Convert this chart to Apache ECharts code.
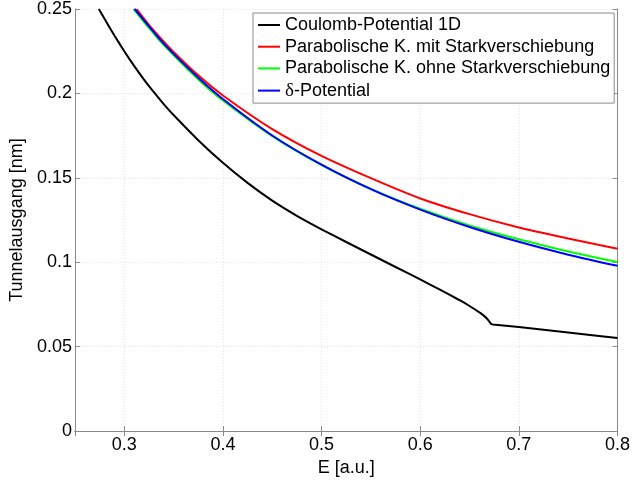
<!DOCTYPE html>
<html>
<head>
<meta charset="utf-8">
<script src="https://cdn.jsdelivr.net/npm/echarts@6/dist/echarts.min.js"></script>
<style>
html,body{margin:0;padding:0;background:#fff;}
#chart{width:633px;height:482px;}
</style>
</head>
<body>
<div id="chart"></div>
<script>
// ---- data ----
var seriesNames = ['Coulomb-Potential 1D', 'Parabolische K. mit Starkverschiebung', 'Parabolische K. ohne Starkverschiebung', 'δ-Potential'];

var coulombE = [0.2742, 0.28, 0.29, 0.30, 0.31, 0.32, 0.33, 0.34, 0.35, 0.375, 0.40, 0.425, 0.45, 0.475, 0.50, 0.525, 0.55, 0.575, 0.60, 0.62, 0.64, 0.65, 0.66, 0.665, 0.668, 0.6705, 0.672, 0.6735, 0.70, 0.75, 0.80];
var coulombV = [0.25, 0.2442, 0.2343, 0.2250, 0.2163, 0.2082, 0.2007, 0.1937, 0.1872, 0.1723, 0.1589, 0.1470, 0.1365, 0.1275, 0.1195, 0.1120, 0.1046, 0.0972, 0.0898, 0.0838, 0.0775, 0.0741, 0.0703, 0.0681, 0.0664, 0.0646, 0.0634, 0.0632, 0.0616, 0.0584, 0.0552];

var starkE = [0.3125, 0.325, 0.3375, 0.35, 0.375, 0.40, 0.45, 0.50, 0.55, 0.60, 0.65, 0.70, 0.75, 0.80];
var starkV = [0.2499, 0.2406, 0.2323, 0.2246, 0.2107, 0.1988, 0.1789, 0.1630, 0.1498, 0.1378, 0.1285, 0.1206, 0.1141, 0.1080];

var ohneE = [0.3095, 0.325, 0.3375, 0.35, 0.375, 0.40, 0.45, 0.50, 0.55, 0.60, 0.65, 0.70, 0.75, 0.80];
var ohneV = [0.25, 0.2388, 0.2302, 0.2226, 0.2083, 0.1958, 0.1747, 0.1576, 0.1435, 0.1317, 0.1218, 0.1136, 0.1064, 0.1002];

var deltaE = [0.3105, 0.325, 0.3375, 0.35, 0.375, 0.40, 0.45, 0.50, 0.55, 0.60, 0.65, 0.70, 0.75, 0.80];
var deltaV = [0.25, 0.2397, 0.2311, 0.2234, 0.2093, 0.1967, 0.1751, 0.1578, 0.1433, 0.1312, 0.1209, 0.1121, 0.1045, 0.0979];

var xMin = 0.25, xMax = 0.8;
var yMin = 0, yMax = 0.25, yStep = 0.05;

function pairs(xs, ys) { return xs.map(function (x, i) { return [x, ys[i]]; }); }

var FONT = "'Liberation Sans', Arial, sans-serif";
var AXIS_COLOR = '#8a8a8a';
var GRID_COLOR = '#e4e4e4';

var chart = echarts.init(document.getElementById('chart'), null, {renderer: 'canvas'});

var baseX = {
  type: 'value', min: xMin, max: xMax, splitNumber: 5,
  axisLine: {show: true, lineStyle: {color: AXIS_COLOR, width: 1}},
  axisTick: {show: true, inside: true, length: 5, lineStyle: {color: AXIS_COLOR}},
};
var baseY = {
  type: 'value', min: yMin, max: yMax, interval: yStep,
  axisLine: {show: true, lineStyle: {color: AXIS_COLOR, width: 1}},
  axisTick: {show: true, inside: true, length: 5, lineStyle: {color: AXIS_COLOR}},
};

var option = {
  animation: false,
  backgroundColor: '#ffffff',
  textStyle: {fontFamily: FONT},
  grid: {left: 73, right: 14, top: 9, bottom: 47, containLabel: false},
  xAxis: [
    Object.assign({}, baseX, {
      position: 'bottom',
      name: 'E [a.u.]', nameLocation: 'middle', nameGap: 21,
      nameTextStyle: {fontSize: 18, color: '#000', fontFamily: FONT},
      axisLabel: {show: true, fontSize: 18, color: '#000', margin: 5, fontFamily: FONT, showMinLabel: false, showMaxLabel: true},
      splitLine: {show: true, lineStyle: {color: GRID_COLOR, type: [1, 2], width: 1}}
    }),
    Object.assign({}, baseX, {
      position: 'top',
      axisLabel: {show: false},
      splitLine: {show: false}
    })
  ],
  yAxis: [
    Object.assign({}, baseY, {
      position: 'left',
      name: 'Tunnelausgang [nm]', nameLocation: 'middle', nameGap: 33, nameRotate: 90,
      nameTextStyle: {fontSize: 18, color: '#000', fontFamily: FONT},
      axisLabel: {show: true, fontSize: 18, color: '#000', margin: 3, fontFamily: FONT},
      splitLine: {show: true, lineStyle: {color: GRID_COLOR, type: [1, 2], width: 1}}
    }),
    Object.assign({}, baseY, {
      position: 'right',
      axisLabel: {show: false},
      splitLine: {show: false}
    })
  ],
  legend: {
    show: true,
    orient: 'vertical',
    left: 253, top: 13,
    padding: [3, 4, 3, 5],
    itemGap: 3.7,
    itemWidth: 22, itemHeight: 2,
    icon: 'rect',
    backgroundColor: '#ffffff',
    borderColor: '#8a8a8a', borderWidth: 1, borderRadius: 0,
    textStyle: {
      fontSize: 18, color: '#000', fontFamily: FONT, lineHeight: 18,
      rich: {
        d: {fontSize: 19, fontFamily: "'Liberation Serif', 'Times New Roman', serif", color: '#000', lineHeight: 18},
        t: {fontSize: 18, fontFamily: FONT, color: '#000', lineHeight: 18}
      }
    },
    formatter: function (name) {
      if (name.charAt(0) === 'δ') { return '{d|δ}{t|' + name.slice(1) + '}'; }
      return name;
    },
    data: seriesNames
  },
  series: [
    {name: seriesNames[0], type: 'line', data: pairs(coulombE, coulombV), showSymbol: false, symbol: 'none', smooth: 0.15, clip: true,
     lineStyle: {color: '#000000', width: 2}, itemStyle: {color: '#000000'}},
    {name: seriesNames[1], type: 'line', data: pairs(starkE, starkV), showSymbol: false, symbol: 'none', smooth: 0.25, clip: true,
     lineStyle: {color: '#ff0000', width: 2}, itemStyle: {color: '#ff0000'}},
    {name: seriesNames[2], type: 'line', data: pairs(ohneE, ohneV), showSymbol: false, symbol: 'none', smooth: 0.25, clip: true,
     lineStyle: {color: '#00ff00', width: 2}, itemStyle: {color: '#00ff00'}},
    {name: seriesNames[3], type: 'line', data: pairs(deltaE, deltaV), showSymbol: false, symbol: 'none', smooth: 0.25, clip: true,
     lineStyle: {color: '#0000ff', width: 2}, itemStyle: {color: '#0000ff'}}
  ]
};
chart.setOption(option);
</script>
</body>
</html>
